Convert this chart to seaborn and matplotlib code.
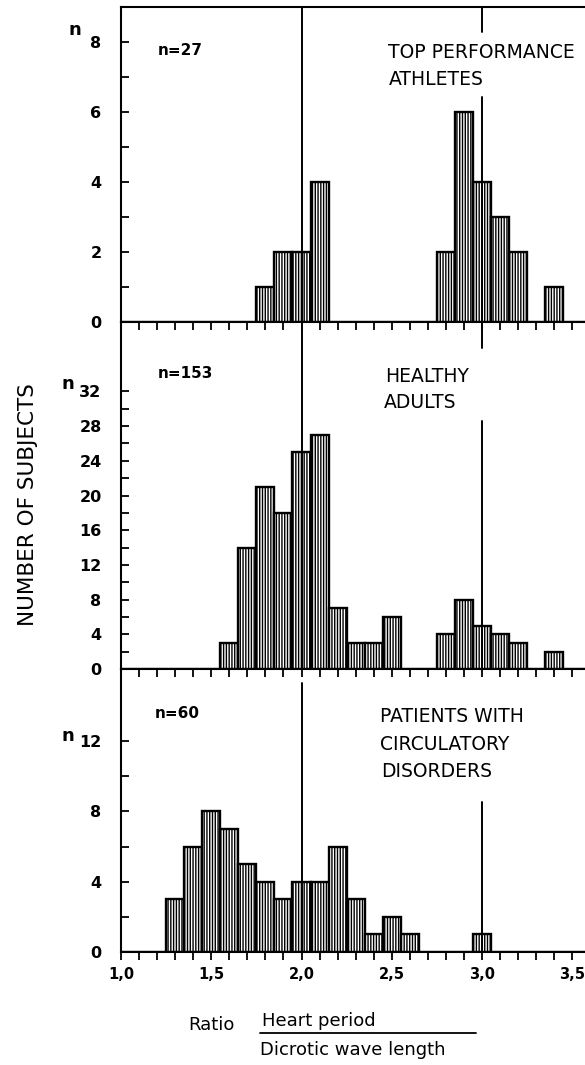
import numpy as np
import pandas as pd
import matplotlib
matplotlib.use("Agg")
import matplotlib.pyplot as plt
import seaborn as sns
from matplotlib.lines import Line2D

# ---------------- data ----------------
# bin centres (ratio) and number of subjects, bins are 0.1 wide
athl_x = [1.8, 1.9, 2.0, 2.1, 2.8, 2.9, 3.0, 3.1, 3.2, 3.4]
athl_n = [1, 2, 2, 4, 2, 6, 4, 3, 2, 1]

healthy_x = [1.6, 1.7, 1.8, 1.9, 2.0, 2.1, 2.2, 2.3, 2.4, 2.5,
             2.8, 2.9, 3.0, 3.1, 3.2, 3.4]
healthy_n = [3, 14, 21, 18, 25, 27, 7, 3, 3, 6,
             4, 8, 5, 4, 3, 2]

patients_x = [1.3, 1.4, 1.5, 1.6, 1.7, 1.8, 1.9, 2.0, 2.1, 2.2,
              2.3, 2.4, 2.5, 2.6, 3.0]
patients_n = [3, 6, 8, 7, 5, 4, 3, 4, 4, 6,
              3, 1, 2, 1, 1]

group_labels = [["TOP PERFORMANCE", "ATHLETES"],
                ["HEALTHY", "ADULTS"],
                ["PATIENTS WITH", "CIRCULATORY", "DISORDERS"]]
n_labels = ["n=27", "n=153", "n=60"]
x_ticklabels = ["1,0", "1,5", "2,0", "2,5", "3,0", "3,5"]

# ---------------- style ----------------
sns.set_style("ticks")
plt.rcParams["font.family"] = ["DejaVu Sans"]
plt.rcParams["hatch.linewidth"] = 1.0
plt.rcParams["hatch.color"] = "black"
for k in ["text.color", "axes.edgecolor", "xtick.color", "ytick.color",
          "axes.labelcolor"]:
    plt.rcParams[k] = "black"

W, H = 585, 1065
fig = plt.figure(figsize=(W / 100, H / 100), dpi=100)


def fx(px):
    return px / W


def fy(py):
    return 1 - py / H


left_px, right_px = 121, 585
panels_px = [(7, 322), (322, 669), (669, 952)]
ylims = [9.0, 40.0, 16.1]
yticks = [np.arange(0, 9, 1), np.arange(0, 33, 2), np.arange(0, 13, 2)]
ylabel_step = [2, 4, 4]
xmax = 1.0 + (right_px - left_px) / 180.5
edges = [round(v, 2) for v in np.arange(0.95, 3.651, 0.1)]

datasets = [(athl_x, athl_n), (healthy_x, healthy_n), (patients_x, patients_n)]
# vertical reference line segments (axes fraction ranges) at 2.0 and 3.0
ref2 = [[(0, 1)], [(0, 1)], [(0, 0.951)]]
ref3 = [[(0, 0.714), (0.921, 1)], [(0, 0.715), (0.925, 1)], [(0, 0.531)]]

axes = []
for i, ((top, bot), (xs, ns)) in enumerate(zip(panels_px, datasets)):
    ax = fig.add_axes([fx(left_px), fy(bot), fx(right_px - left_px), (bot - top) / H])
    axes.append(ax)
    df = pd.DataFrame({"ratio": xs, "count": ns})
    sns.histplot(data=df, x="ratio", weights="count", bins=edges, ax=ax,
                 color="white", edgecolor="black", linewidth=1.7,
                 hatch="||||||", alpha=1, zorder=2)
    ax.set_xlim(1.0, xmax)
    ax.set_ylim(0, ylims[i])
    ax.set_ylabel("")
    ax.set_xlabel("")
    ax.spines["right"].set_visible(False)
    ax.spines["top"].set_visible(i == 0)
    for s in ["left", "bottom", "top"]:
        ax.spines[s].set_linewidth(1.5)
    ax.set_yticks(yticks[i])
    ax.set_yticklabels([str(int(v)) if v % ylabel_step[i] == 0 else ""
                        for v in yticks[i]])
    ax.tick_params(axis="y", direction="in", length=5.5, width=1.3,
                   pad=14, labelsize=11.5)
    for lab in ax.get_yticklabels():
        lab.set_fontweight("bold")
    ax.set_xticks([round(v, 2) for v in np.arange(1.0, 3.51, 0.1)])
    ax.tick_params(axis="x", direction="out", length=6, width=1.3,
                   labelsize=10.5, pad=5)
    if i < 2:
        ax.set_xticklabels([])
    else:
        ax.set_xticklabels([x_ticklabels[k // 5] if k % 5 == 0 else ""
                            for k in range(26)])
        for lab in ax.get_xticklabels():
            lab.set_fontweight("bold")
    for (a, b) in ref2[i]:
        ax.axvline(2.0, ymin=a, ymax=b, color="black", lw=1.4, zorder=3)
    for (a, b) in ref3[i]:
        ax.axvline(3.0, ymin=a, ymax=b, color="black", lw=1.4, zorder=3)
    ax.patch.set_alpha(0)

# group titles
title_pos = [[(388, 58), (389, 85)],
             [(385, 382), (384, 408)],
             [(380, 722), (380, 750), (381, 777)]]
for lines, poss in zip(group_labels, title_pos):
    for txt, (px, py) in zip(lines, poss):
        fig.text(fx(px), fy(py), txt, ha="left", va="baseline",
                 fontsize=13.5, color="black")

# n = ... labels
n_pos = [(158, 55), (158, 378), (155, 718)]
for txt, (px, py) in zip(n_labels, n_pos):
    fig.text(fx(px), fy(py), txt, ha="left", va="baseline",
             fontsize=11, fontweight="bold")

# small "n" axis symbols
for (px, py) in [(75, 30), (68, 384), (68, 736)]:
    fig.text(fx(px), fy(py), "n", ha="center", va="center",
             fontsize=13, fontweight="bold")

# y axis title
fig.text(fx(28), fy(505), "NUMBER OF SUBJECTS", rotation=90,
         ha="center", va="center", fontsize=15.5)

# x axis title as a fraction
fig.text(fx(188), fy(1030), "Ratio", ha="left", va="baseline", fontsize=13)
fig.text(fx(262), fy(1026), "Heart period", ha="left", va="baseline", fontsize=13)
fig.text(fx(260), fy(1055), "Dicrotic wave length", ha="left", va="baseline",
         fontsize=13)
fig.add_artist(Line2D([fx(260), fx(476)], [fy(1033), fy(1033)],
                      transform=fig.transFigure, color="black", lw=1.3))

fig.savefig("out.png", dpi=100, facecolor="white")
